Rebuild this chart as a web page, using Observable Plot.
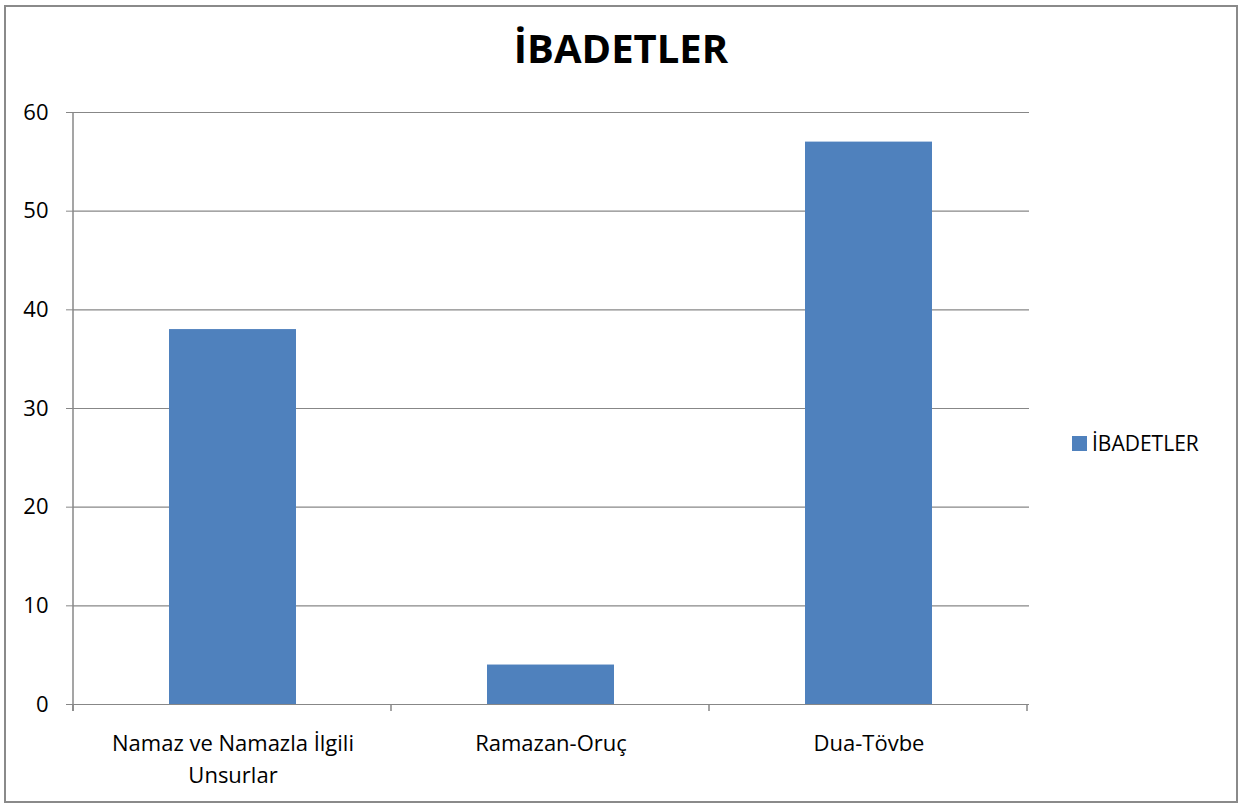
<!DOCTYPE html>
<html>
<head>
<meta charset="utf-8">
<script src="https://cdn.jsdelivr.net/npm/d3@7"></script>
<script src="https://cdn.jsdelivr.net/npm/@observablehq/plot@0.6"></script>
<style>
  html, body { margin: 0; padding: 0; background: #fff; }
  #wrap { position: relative; width: 1254px; height: 808px; overflow: hidden; font-family: "Open Sans", "Noto Sans", sans-serif; }
  #border { position: absolute; left: 4px; top: 5px; width: 1234px; height: 798px; border: 2px solid #8a8a8a; box-sizing: border-box; }
  #title { position: absolute; left: 4px; width: 1234px; top: 20px; text-align: center; font-weight: 700; font-size: 40px; line-height: 56px; color: #000; }
  #chart { position: absolute; left: 0; top: 90px; }
  #legend { position: absolute; left: 1072px; top: 428px; height: 30px; display: flex; align-items: center; font-size: 21px; color: #000; }
  #legend .sw { width: 15px; height: 15px; background: #4F81BD; margin-right: 5px; }
</style>
</head>
<body>
<div id="wrap">
  <div id="border"></div>
  <div id="title">İBADETLER</div>
  <div id="chart"></div>
  <div id="legend"><div class="sw"></div><span>İBADETLER</span></div>
</div>
<script>
const categories = ["Namaz ve Namazla İlgili Unsurlar", "Ramazan-Oruç", "Dua-Tövbe"];
const values = [38, 4, 57];
const tickLabels = ["Namaz ve Namazla İlgili\nUnsurlar", "Ramazan-Oruç", "Dua-Tövbe"];
const yTicks = [0, 10, 20, 30, 40, 50, 60];

const data = categories.map((c, i) => ({category: c, value: values[i]}));
const labelOf = new Map(categories.map((c, i) => [c, tickLabels[i]]));
const gray = "#878787";

const plot = Plot.plot({
  width: 1254,
  height: 712,
  marginTop: 22,
  marginBottom: 98,
  marginLeft: 73,
  marginRight: 225,
  style: {fontFamily: "'Open Sans', 'Noto Sans', sans-serif", fontSize: "22px", color: "#000", background: "transparent"},
  x: {domain: categories, paddingInner: 0.6, paddingOuter: 0.3, label: null},
  y: {domain: [0, 60], label: null},
  marks: [
    Plot.ruleY(yTicks, {stroke: gray, strokeWidth: 1.2, strokeOpacity: 1}),
    Plot.barY(data, {x: "category", y: "value", fill: "#4F81BD"}),
    Plot.axisY({ticks: yTicks, tickSize: 7, tickPadding: 18, stroke: gray, strokeOpacity: 1, fontSize: 22, label: null}),
    Plot.axisX({tickSize: 0, tickPadding: 24, tickFormat: d => labelOf.get(d), fontSize: 22, lineHeight: 1.45, label: null})
  ]
});
document.getElementById("chart").appendChild(plot);

// left axis line and category boundary ticks, positioned from the plot's scales
const xs = plot.scale("x"), ys = plot.scale("y");
const svg = d3.select(plot);
const [x0, x1] = xs.range;
const yBottom = ys.apply(0), yTop = ys.apply(60);
svg.append("line").attr("x1", x0).attr("x2", x0).attr("y1", yTop).attr("y2", yBottom + 7)
  .attr("stroke", gray).attr("stroke-width", 1.5);
const bounds = d3.range(categories.length + 1).map(i => x0 + i * xs.step);
svg.selectAll("line.bt").data(bounds).join("line").attr("class", "bt")
  .attr("x1", d => d).attr("x2", d => d).attr("y1", yBottom).attr("y2", yBottom + 7)
  .attr("stroke", gray).attr("stroke-width", 1.5);
</script>
</body>
</html>
